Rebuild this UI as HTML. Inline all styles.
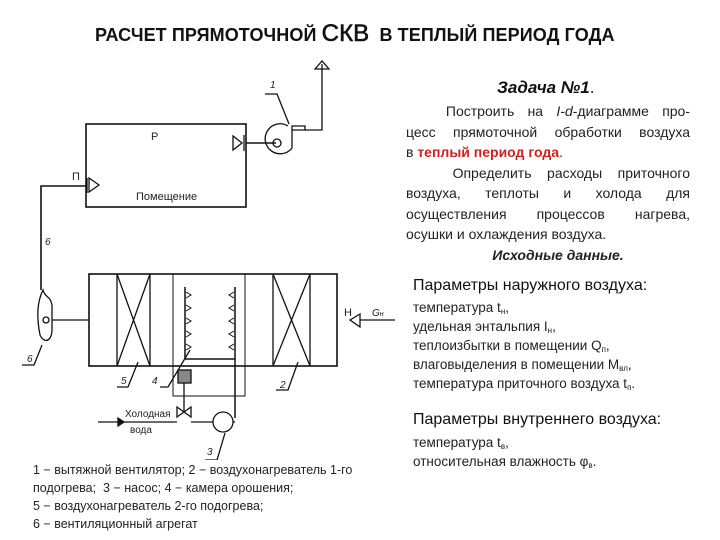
<!DOCTYPE html>
<html><head><meta charset="utf-8"><style>
body{margin:0;width:720px;height:540px;background:#fff;position:relative;overflow:hidden;font-family:"Liberation Sans",sans-serif;color:#111}
.a{position:absolute;white-space:nowrap}
.p{font-size:14px;line-height:20.5px;color:#222}
.j{text-align:justify;text-align-last:justify}
sub{font-size:8px;line-height:0;vertical-align:-2px}
</style></head><body>
<div class="a" style="left:95px;top:20px;font-size:18px;font-weight:bold;letter-spacing:0.1px">РАСЧЕТ ПРЯМОТОЧНОЙ <span style="font-size:24px;font-weight:normal;-webkit-text-stroke:0.6px #111">СКВ</span>&nbsp; В ТЕПЛЫЙ ПЕРИОД ГОДА</div>

<div class="a" style="left:497px;top:78px;font-size:17px;font-weight:bold;font-style:italic">Задача №1<span style="font-weight:normal;font-style:normal">.</span></div>
<div class="a p" style="left:406px;top:101px;width:284px;white-space:normal">
<div class="j">&nbsp;&nbsp;&nbsp;Построить на <i>I-d</i>-диаграмме про-</div>
<div class="j">цесс прямоточной обработки воздуха</div>
<div>в <b style="color:#d02020">теплый период года</b>.</div>
<div class="j">&nbsp;&nbsp;&nbsp;Определить расходы приточного</div>
<div class="j">воздуха, теплоты и холода для</div>
<div class="j">осуществления процессов нагрева,</div>
<div>осушки и охлаждения воздуха.</div>
<div style="text-align:center;font-weight:bold;font-style:italic;padding-left:20px">Исходные данные.</div>
</div>

<div class="a" style="left:413px;top:277px;font-size:16px">Параметры наружного воздуха:</div>
<div class="a" style="left:413px;top:298px;font-size:13.5px;line-height:19px;color:#222">температура t<sub>н</sub>,<br>удельная энтальпия I<sub>н</sub>,<br>теплоизбытки в помещении Q<sub>п</sub>,<br>влаговыделения в помещении M<sub>вл</sub>,<br>температура приточного воздуха t<sub>п</sub>.</div>
<div class="a" style="left:413px;top:411px;font-size:16px">Параметры внутреннего воздуха:</div>
<div class="a" style="left:413px;top:433px;font-size:13.5px;line-height:19px;color:#222">температура t<sub>в</sub>,<br>относительная влажность φ<sub>в</sub>.</div>

<div class="a" style="left:33px;top:461px;font-size:12.5px;line-height:18px;color:#222">1 − вытяжной вентилятор; 2 − воздухонагреватель 1-го<br>подогрева;&nbsp; 3 − насос; 4 − камера орошения;<br>5 − воздухонагреватель 2-го подогрева;<br>6 − вентиляционный агрегат</div>

<svg class="a" style="left:0;top:0" width="400" height="460" viewBox="0 0 400 460" fill="none" stroke="#111" stroke-width="1.3" font-family="Liberation Sans, sans-serif">
<rect x="86" y="124" width="160" height="83" stroke-width="1.6"/>
<text x="151" y="140" font-size="11" fill="#222" stroke="none">Р</text>
<text x="136" y="200" font-size="11" fill="#222" stroke="none">Помещение</text>
<path d="M233 136 L233 150 L242 143 Z M244 135 V151"/>
<line x1="246" y1="143" x2="276" y2="143" stroke-width="1.6"/>
<path d="M288 126 A15 15 0 1 0 292 148 V126 H305 V130 H292" />
<circle cx="277" cy="143" r="4"/>
<path d="M305 130 H322 V64"/>
<path d="M315 69 L322 61 L329 69 Z"/>
<path d="M265 94 H277 L289 124"/>
<text x="270" y="88" font-size="10" fill="#222" stroke="none" font-style="italic">1</text>
<path d="M89 178 L89 192 L99 185 Z M87 178 V193"/>
<text x="72" y="180" font-size="11" fill="#222" stroke="none">П</text>
<path d="M86 186 H41 V290" stroke-width="1.6"/>
<text x="45" y="245" font-size="10" fill="#222" stroke="none" font-style="italic">6</text>
<path d="M43 290 C38 300 36 315 40 335 C45 345 52 340 52 330 L52 305 C50 295 45 298 43 290 Z"/>
<circle cx="46" cy="320" r="3"/>
<line x1="52" y1="320" x2="89" y2="320"/>
<path d="M22 365 H34 L42 345"/>
<text x="27" y="362" font-size="10" fill="#222" stroke="none" font-style="italic">6</text>
<rect x="89" y="274" width="248" height="92" stroke-width="1.6"/>
<line x1="117" y1="274" x2="117" y2="366"/>
<line x1="150" y1="274" x2="150" y2="366"/>
<line x1="117" y1="274" x2="150" y2="366"/>
<line x1="150" y1="274" x2="117" y2="366"/>
<line x1="273" y1="274" x2="273" y2="366"/>
<line x1="310" y1="274" x2="310" y2="366"/>
<line x1="273" y1="274" x2="310" y2="366"/>
<line x1="310" y1="274" x2="273" y2="366"/>
<path d="M173 274 V396 H245 V274" stroke-width="1"/>
<path d="M185 287 V359 H235 V287 M235 359 V418" stroke-width="1.5"/>
<path d="M186 292 l5 3 -5 3 M186 305 l5 3 -5 3 M186 318 l5 3 -5 3 M186 331 l5 3 -5 3 M186 344 l5 3 -5 3" stroke-width="1"/>
<path d="M234 292 l-5 3 5 3 M234 305 l-5 3 5 3 M234 318 l-5 3 5 3 M234 331 l-5 3 5 3 M234 344 l-5 3 5 3" stroke-width="1"/>
<rect x="178" y="370" width="13" height="13" fill="#888"/>
<line x1="184" y1="383" x2="184" y2="412"/>
<path d="M177 407 L191 417 L191 407 L177 417 Z"/>
<path d="M98 422 H177 M191 422 H213"/>
<path d="M118 418 L124 422 L118 426 Z" fill="#111"/>
<circle cx="223" cy="422" r="10"/>
<path d="M233 422 H235"/>
<path d="M205 460 H217 L225 433"/>
<text x="207" y="455" font-size="10" fill="#222" stroke="none" font-style="italic">3</text>
<text x="125" y="417" font-size="10" fill="#222" stroke="none">Холодная</text>
<text x="130" y="433" font-size="10" fill="#222" stroke="none">вода</text>
<path d="M117 387 H128 L138 362"/><text x="121" y="384" font-size="10" fill="#222" stroke="none" font-style="italic">5</text>
<path d="M160 387 H168 L190 350"/><text x="152" y="384" font-size="10" fill="#222" stroke="none" font-style="italic">4</text>
<path d="M276 390 H288 L298 362"/><text x="280" y="388" font-size="10" fill="#222" stroke="none" font-style="italic">2</text>
<path d="M395 320 H360"/>
<path d="M360 314 L350 320 L360 327 Z"/>
<text x="344" y="316" font-size="11" fill="#222" stroke="none">Н</text>
<text x="372" y="316" font-size="10" fill="#222" stroke="none" font-style="italic">G<tspan font-size="7">н</tspan></text>
</svg>
</body></html>
